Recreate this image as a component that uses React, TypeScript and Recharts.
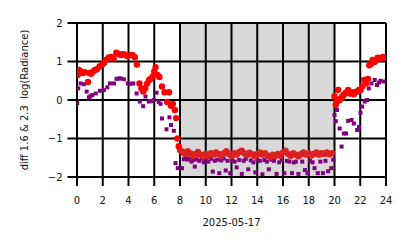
import React from 'react';
import { ScatterChart, Scatter, XAxis, YAxis, ReferenceArea, ReferenceLine, Label } from 'recharts';

const xTicks = [0, 2, 4, 6, 8, 10, 12, 14, 16, 18, 20, 22, 24];
const yTicks = [-2, -1, 0, 1, 2];
const dateLabel = '2025-05-17';
const yLabel = 'diff 1.6 & 2.3\u00a0\u00a0log(Radiance)';
const nightStart = 8;
const nightEnd = 20;

// red series (daytime, brighter)
const redDayHours = [0.05, 0.15, 0.3, 0.45, 0.6, 0.85, 0.95, 1.1, 1.25, 1.4, 1.55, 1.75, 1.95, 2.1, 2.3, 2.45, 2.65, 2.85, 3.05, 3.2, 3.4, 3.55, 3.7, 3.9, 4.1, 4.3, 4.5, 4.65, 4.85, 5.0, 5.15, 5.3, 5.45, 5.6, 5.75, 5.9, 6.0, 6.1, 6.25, 6.4, 6.6, 6.8, 7.0, 7.15, 7.3, 7.45, 7.6, 7.7, 7.8, 7.9,
  20.0, 20.1, 20.2, 20.28, 20.4, 20.5, 20.62, 20.72, 20.85, 21.0, 21.06, 21.2, 21.35, 21.5, 21.62, 21.76, 21.9, 22.02, 22.15, 22.3, 22.45, 22.6, 22.7, 22.85, 22.95, 23.1, 23.2, 23.35, 23.5, 23.65, 23.8, 23.95];
const redDayValues = [0.65, 0.78, 0.74, 0.7, 0.72, 0.47, 0.7, 0.68, 0.74, 0.78, 0.8, 0.87, 0.92, 0.97, 1.05, 1.1, 1.12, 1.08, 1.23, 1.2, 1.17, 1.19, 1.18, 1.14, 1.16, 1.17, 1.11, 0.92, 0.43, 0.3, 0.22, 0.3, 0.43, 0.52, 0.56, 0.62, 0.74, 0.85, 0.65, 0.6, 0.35, 0.2, -0.05, 0.2, -0.15, -0.1, -0.26, -0.47, -1.0, -1.2,
  0.1, -0.13, -0.04, 0.26, 0.0, 0.05, 0.1, 0.13, 0.18, 0.22, 0.26, 0.17, 0.2, 0.15, 0.2, 0.22, 0.26, 0.26, 0.35, 0.52, 0.43, 0.55, 0.9, 0.94, 1.04, 0.99, 1.02, 1.1, 1.08, 1.1, 1.12, 1.1];

// red series (night)
const redNightHours = [8.0, 8.2, 8.4, 8.6, 8.8, 9.0, 9.2, 9.4, 9.6, 9.8, 10.0, 10.2, 10.4, 10.6, 10.8, 11.0, 11.2, 11.4, 11.6, 11.8, 12.0, 12.2, 12.4, 12.6, 12.8, 13.0, 13.2, 13.4, 13.6, 13.8, 14.0, 14.2, 14.4, 14.6, 14.8, 15.0, 15.2, 15.4, 15.6, 15.8, 16.0, 16.2, 16.4, 16.6, 16.8, 17.0, 17.2, 17.4, 17.6, 17.8, 18.0, 18.2, 18.4, 18.6, 18.8, 19.0, 19.2, 19.4, 19.6, 19.8];
const redNightValues = [-1.3, -1.35, -1.4, -1.33, -1.38, -1.45, -1.4, -1.35, -1.42, -1.47, -1.4, -1.45, -1.38, -1.42, -1.36, -1.4, -1.44, -1.38, -1.33, -1.4, -1.45, -1.38, -1.42, -1.35, -1.32, -1.38, -1.43, -1.37, -1.41, -1.46, -1.4, -1.36, -1.42, -1.38, -1.44, -1.48, -1.42, -1.46, -1.4, -1.44, -1.36, -1.32, -1.4, -1.45, -1.38, -1.42, -1.46, -1.4, -1.36, -1.42, -1.38, -1.44, -1.4, -1.36, -1.42, -1.38, -1.4, -1.36, -1.41, -1.38];

// purple series
const purpleHours = [0.02, 0.1, 0.28, 0.54, 0.75, 0.93, 1.05, 1.19, 1.45, 1.78, 2.09, 2.35, 2.56, 2.87, 3.07, 3.25, 3.39, 3.64, 3.95, 4.15, 4.37, 4.63, 4.88, 5.14, 5.32, 5.58, 5.75, 5.97, 6.18, 6.35, 6.49, 6.6, 6.95, 7.18, 7.3, 7.52, 7.65, 7.83,
  8.16, 8.3, 8.45, 8.6, 8.75, 8.9, 9.05, 9.15, 9.3, 9.5, 9.7, 9.85, 10.0, 10.2, 10.4, 10.55, 10.7, 10.9, 11.05, 11.2, 11.4, 11.55, 11.7, 11.9, 12.05, 12.25, 12.4, 12.6, 12.8, 12.95, 13.1, 13.3, 13.5, 13.7, 13.85, 14.0, 14.2, 14.4, 14.55, 14.75, 14.9, 15.1, 15.3, 15.5, 15.7, 15.9, 16.1, 16.3, 16.5, 16.7, 16.85, 17.0, 17.2, 17.4, 17.5, 17.7, 17.9, 18.1, 18.3, 18.45, 18.7, 18.9, 19.1, 19.3, 19.5, 19.75, 19.9,
  20.0, 20.1, 20.2, 20.4, 20.55, 20.72, 20.9, 21.06, 21.32, 21.5, 21.76, 21.9, 22.02, 22.15, 22.35, 22.53, 22.66, 22.87, 23.12, 23.3, 23.45, 23.57, 23.82];
const purpleValues = [-0.08, 0.3, 0.43, 0.41, 0.22, 0.07, 0.1, 0.13, 0.17, 0.24, 0.26, 0.33, 0.43, 0.43, 0.55, 0.56, 0.56, 0.54, 0.43, 0.42, 0.43, 0.17, -0.04, -0.16, 0.09, -0.04, -0.03, 0.0, 0.19, -0.05, -0.1, -0.48, -0.76, -0.45, -0.65, -0.8, -1.64, -1.77,
  -1.77, -1.54, -1.48, -1.55, -1.52, -1.6, -1.56, -1.73, -1.54, -1.58, -1.52, -1.62, -1.55, -1.6, -1.53, -1.86, -1.58, -1.55, -1.9, -1.57, -1.52, -1.83, -1.58, -1.9, -1.55, -1.6, -1.75, -1.56, -1.92, -1.58, -1.53, -1.8, -1.57, -1.62, -1.88, -1.55, -1.58, -1.93, -1.56, -1.6, -1.8, -1.55, -1.58, -1.92, -1.62, -1.56, -1.9, -1.58, -1.6, -1.9, -1.62, -1.6, -1.92, -1.43, -1.6, -1.82, -1.9, -1.58, -1.62, -1.77, -1.9, -1.6, -1.9, -1.58, -1.85, -1.77, -1.55,
  -0.39, -0.55, -0.26, -0.74, -1.21, -0.87, -0.87, -0.54, -0.52, -0.61, -0.78, -0.7, -0.33, -0.17, -0.04, 0.0, 0.3, 0.43, 0.52, 0.39, 0.45, 0.5, 0.48];

const zip = (hs: number[], vs: number[]) => hs.map((h, i) => ({ h, v: vs[i] }));
const redDay = zip(redDayHours, redDayValues);
const redNight = zip(redNightHours, redNightValues);
const purple = zip(purpleHours, purpleValues);

const FONT = '"DejaVu Sans", sans-serif';
const fmtY = (v: number) => (v < 0 ? '\u2212' + Math.abs(v) : String(v));

const RedDot = (color: string) => (p: any) => (
  <circle cx={p.cx} cy={p.cy} r={3.2} fill={color} />
);
const PurpleSq = (p: any) => (
  <rect x={p.cx - 2} y={p.cy - 2} width={4} height={4} fill="#800080" />
);

export default function App() {
  return (
    <div style={{ position: 'absolute', left: 0, top: 0 }}>
      <ScatterChart width={414} height={248} margin={{ top: 23, right: 28, bottom: 0, left: 0 }}>
        <XAxis
          type="number"
          dataKey="h"
          domain={[0, 24]}
          ticks={xTicks}
          interval={0}
          axisLine={false}
          tickLine={{ stroke: '#000', strokeWidth: 2 }}
          tickSize={9}
          tickMargin={11}
          height={71}
          tick={{ fontSize: 10, fill: '#111', fontFamily: FONT }}
          allowDataOverflow
        >
          <Label
            content={(props: any) => {
              const vb = props.viewBox;
              return (
                <text x={vb.x + vb.width / 2} y={226} textAnchor="middle" fontSize={10} fontFamily={FONT} fill="#111">
                  {dateLabel}
                </text>
              );
            }}
          />
        </XAxis>
        <YAxis
          type="number"
          dataKey="v"
          domain={[-2, 2]}
          ticks={yTicks}
          interval={0}
          axisLine={false}
          tickLine={{ stroke: '#000', strokeWidth: 2 }}
          tickSize={9.5}
          tickMargin={5}
          width={77}
          tickFormatter={fmtY}
          tick={{ fontSize: 10, fill: '#111', fontFamily: FONT }}
          allowDataOverflow
        >
          <Label
            content={(props: any) => {
              const vb = props.viewBox;
              const cy = vb.y + vb.height / 2;
              return (
                <text x={28} y={cy} transform={`rotate(-90, 28, ${cy})`} textAnchor="middle" fontSize={10} fontFamily={FONT} fill="#111">
                  {yLabel}
                </text>
              );
            }}
          />
        </YAxis>
        <ReferenceArea x1={nightStart} x2={nightEnd} y1={-2} y2={2} fill="#d8d8d8" fillOpacity={1} stroke="none" />
        <Scatter data={purple} isAnimationActive={false} shape={PurpleSq} />
        <Scatter data={redNight} isAnimationActive={false} shape={RedDot('#dc2222')} />
        <Scatter data={redDay} isAnimationActive={false} shape={RedDot('#ff0000')} />
        {xTicks.map((t) => (
          <ReferenceLine key={'x' + t} x={t} stroke="#000" strokeWidth={2} ifOverflow="visible" />
        ))}
        {yTicks.map((t) => (
          <ReferenceLine key={'y' + t} y={t} stroke="#000" strokeWidth={2} ifOverflow="visible" />
        ))}
      </ScatterChart>
    </div>
  );
}
